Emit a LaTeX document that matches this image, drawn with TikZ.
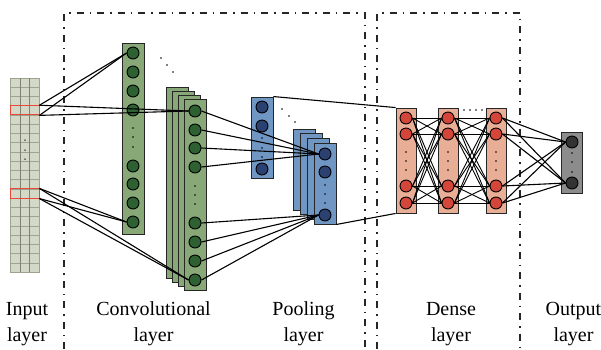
\documentclass[tikz,border=0pt]{standalone}
\usepackage{fontspec}
\setmainfont{Liberation Serif}
\definecolor{gridfill}{HTML}{D4D9C7}
\definecolor{gridline}{HTML}{9DA391}
\definecolor{convfill}{HTML}{88A878}
\definecolor{convdot}{HTML}{2E6131}
\definecolor{poolfill}{HTML}{7097C4}
\definecolor{pooldot}{HTML}{2A4172}
\definecolor{densefill}{HTML}{E9AE96}
\definecolor{densedot}{HTML}{D5463A}
\definecolor{outfill}{HTML}{8C8C8C}
\definecolor{outdot}{HTML}{333333}
\definecolor{fieldred}{HTML}{E8473A}
\begin{document}
\begin{tikzpicture}[x=1pt,y=-1pt,
  colbox/.style={draw=black!85,line width=0.9pt,inner sep=0pt},
  convcol/.style={colbox,fill=convfill,minimum width=22pt,minimum height=191pt},
  poolcol/.style={colbox,fill=poolfill,minimum width=22pt,minimum height=81pt},
  densecol/.style={colbox,fill=densefill,minimum width=20pt,minimum height=105pt},
  outcol/.style={colbox,fill=outfill,minimum width=21pt,minimum height=61pt},
  neuron/.style={circle,draw=black,line width=0.9pt,inner sep=0pt,minimum size=12pt},
  cn/.style={neuron,fill=convdot},
  pn/.style={neuron,fill=pooldot},
  dn/.style={neuron,fill=densedot},
  on/.style={neuron,fill=outdot},
  tinydot/.style={circle,fill=black,inner sep=0pt,minimum size=1.8pt},
  conn/.style={draw=black,line width=1.1pt},
  frame/.style={draw=black!85,line width=1.3pt,dash pattern=on 7pt off 6pt on 1.5pt off 6pt},
  redbox/.style={draw=fieldred,line width=0.9pt,inner sep=0pt,minimum width=29pt,minimum height=9.24pt},
  lab/.style={font=\fontsize{20}{23}\selectfont,anchor=base,inner sep=0pt}
]
\useasboundingbox (0,0) rectangle (601,349);

% layer frames
\draw[frame] (64,349) -- (64,13) -- (365,13) -- (365,349);
\draw[frame] (377,349) -- (377,13) -- (520,13) -- (520,349);

% input grid
\node[draw=gridline,fill=gridfill,line width=0.5pt,inner sep=0pt,
      minimum width=29pt,minimum height=194pt] (inp) at (24.5,175) {};
\foreach \i in {1,...,20}
  \draw[gridline,line width=0.5pt] (10,78+\i*9.24) -- (39,78+\i*9.24);
\draw[gridline!80!black,line width=0.8pt] (20,78) -- (20,272);
\draw[gridline!80!black,line width=0.8pt] (29,78) -- (29,272);
\foreach \y in {140,150,159} \node[tinydot,minimum size=1.5pt] at (25,\y) {};
\node[redbox] (rt) at (24.5,110.3) {};
\node[redbox] (rb) at (24.5,193.5) {};

% convolutional layer: single map
\node[convcol] (cc) at (133,138.5) {};
\foreach \y [count=\k] in {53,72,91,110,166,184,203,222}
  \node[cn] (c\k) at (133,\y) {};
\foreach \y in {128,137,147} \node[tinydot] at (133,\y) {};
\foreach \x/\y in {161/58,167/65,173/72} \node[tinydot] at (\x,\y) {};

% convolutional layer: stack of maps
\foreach \dx/\dy [count=\k] in {0/0,6/4,12/8,18/12}
  \node[convcol] (s\k) at (177+\dx,182.5+\dy) {};
\foreach \y [count=\k] in {111,130,148,167,223,242,261,280}
  \node[cn] (sc\k) at (195,\y) {};
\foreach \y in {186,195,204} \node[tinydot] at (195,\y) {};

% pooling layer: single map
\node[poolcol] (pc) at (262,137.5) {};
\foreach \y [count=\k] in {107,126,169}
  \node[pn] (p\k) at (262,\y) {};
\foreach \y in {138,148,157} \node[tinydot] at (262,\y) {};
\foreach \x/\y in {282/109,289/116,295/122} \node[tinydot] at (\x,\y) {};

% pooling layer: stack of maps
\foreach \dx/\dy [count=\k] in {0/0,7/4.7,14/9.3,21/14}
  \node[poolcol] (t\k) at (304+\dx,169.5+\dy) {};
\foreach \y [count=\k] in {154,172,215}
  \node[pn] (q\k) at (325,\y) {};
\foreach \y in {185,194,203} \node[tinydot] at (325,\y) {};

% dense layers
\foreach \x [count=\j] in {406,448,496} {
  \node[densecol] (dc\j) at (\x,160.5) {};
  \foreach \y [count=\k] in {118,134,186,203}
    \node[dn] (d\j\k) at (\x,\y) {};
  \foreach \y in {152,161,170} \node[tinydot] at (\x,\y) {};
}
\foreach \x in {464,470,476,482} \node[tinydot] at (\x,110) {};

% output layer
\node[outcol] (oc) at (571.5,162.5) {};
\node[on] (o1) at (572,142) {};
\node[on] (o2) at (572,183) {};
\foreach \y in {153,162,172} \node[tinydot] at (572,\y) {};

% receptive fields of the input
\draw[conn] (rt.north east) -- (c1.west);
\draw[conn] (rt.south east) -- (c1.west);
\draw[conn] (rt.north east) -- (sc1.west);
\draw[conn] (rt.south east) -- (sc1.west);
\draw[conn] (rb.north east) -- (c8.west);
\draw[conn] (rb.south east) -- (c8.west);
\draw[conn] (rb.north east) -- (sc8.west);
\draw[conn] (rb.south east) -- (sc8.west);

% convolution to pooling
\foreach \k in {1,...,4} \draw[conn] (sc\k.east) -- (q1.west);
\foreach \k in {5,...,8} \draw[conn] (sc\k.east) -- (q3.west);

% pooling to dense
\draw[conn] (pc.north east) -- (dc1.north west);
\draw[conn] (t4.south east) -- (dc1.south west);

% dense connections
\foreach \a in {1,...,4}
  \foreach \b in {1,...,4} {
    \draw[conn,line width=0.9pt] (d1\a.east) -- (d2\b.west);
    \draw[conn,line width=0.9pt] (d2\a.east) -- (d3\b.west);
  }
\foreach \a in {1,...,4} {
  \draw[conn] (d3\a.east) -- (o1.west);
  \draw[conn] (d3\a.east) -- (o2.west);
}

% labels
\node[lab] (l1a) at (27,315) {Input};
\node[lab] (l1b) at (27,341) {layer};
\node[lab] (l2a) at (153.5,315) {Convolutional};
\node[lab] (l2b) at (153.5,341) {layer};
\node[lab] (l3a) at (303.5,315) {Pooling};
\node[lab] (l3b) at (303.5,341) {layer};
\node[lab] (l4a) at (451,315) {Dense};
\node[lab] (l4b) at (451,341) {layer};
\node[lab] (l5a) at (573.5,315) {Output};
\node[lab] (l5b) at (573.5,341) {layer};
\end{tikzpicture}
\end{document}
